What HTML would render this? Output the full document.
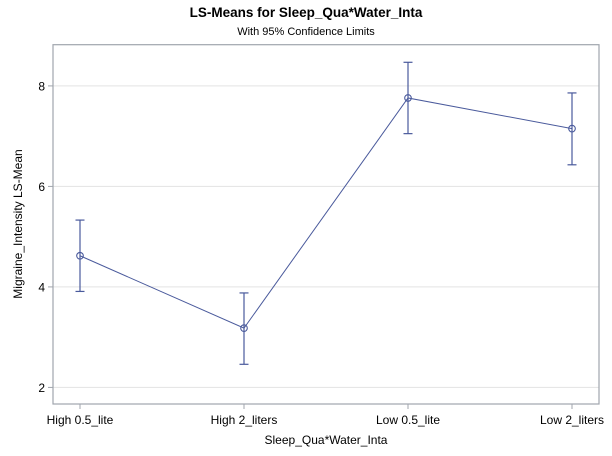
<!DOCTYPE html>
<html><head><meta charset="utf-8"><style>
html,body{margin:0;padding:0;background:#fff;}
svg{display:block;font-family:"Liberation Sans",Arial,sans-serif;}
</style></head><body>
<svg id="chart" width="612" height="456" viewBox="0 0 612 456">
<rect x="0" y="0" width="612" height="456" fill="#fff"/>
<text x="306" y="17" text-anchor="middle" font-size="13.5" font-weight="bold" fill="#000">LS-Means for Sleep_Qua*Water_Inta</text>
<text x="306" y="35" text-anchor="middle" font-size="11" fill="#000">With 95% Confidence Limits</text>
<g id="grid"></g>
<g id="yaxis"></g>
<g id="xaxis"></g>
<g id="series"></g>
<rect x="53" y="44.7" width="546" height="359.3" fill="none" stroke="#a0a5ad" stroke-width="1.2"/>
<text x="326" y="444" text-anchor="middle" font-size="12" fill="#000">Sleep_Qua*Water_Inta</text>
<text transform="translate(22,224) rotate(-90)" text-anchor="middle" font-size="12" fill="#000">Migraine_Intensity LS-Mean</text>
</svg>
<script>
const categories = ["High 0.5_lite", "High 2_liters", "Low 0.5_lite", "Low 2_liters"];
const means = [4.62, 3.18, 7.76, 7.15];
const lowerCL = [3.91, 2.46, 7.05, 6.43];
const upperCL = [5.33, 3.88, 8.47, 7.86];
const yTicks = [2, 4, 6, 8];

const NS = "http://www.w3.org/2000/svg";
const plotLeft = 53, plotRight = 599, plotTop = 44.7, plotBottom = 404;
const yMin = 1.67, yMax = 8.82;
function yScale(v){ return plotBottom - (v - yMin) / (yMax - yMin) * (plotBottom - plotTop); }
const xPad = 27;
function xScale(i){ return plotLeft + xPad + i * ((plotRight - plotLeft - 2*xPad) / (categories.length - 1)); }
function mk(tag, attrs, parent){ const e = document.createElementNS(NS, tag); for (const k in attrs) e.setAttribute(k, attrs[k]); parent.appendChild(e); return e; }

const gridG = document.getElementById('grid');
const yaxisG = document.getElementById('yaxis');
const xaxisG = document.getElementById('xaxis');
const seriesG = document.getElementById('series');

yTicks.forEach(t => {
  const y = yScale(t);
  const g = mk('line', {x1: plotLeft, x2: plotRight, y1: y, y2: y, stroke: '#e3e3e3', 'stroke-width': 1}, gridG);
  
  
  const tk = mk('line', {x1: plotLeft - 5, x2: plotLeft, y1: y, y2: y, stroke: '#a0a5ad', 'stroke-width': 1}, yaxisG);
  
  
  const lb = mk('text', {x: plotLeft - 8, y: y + 4.5, 'text-anchor': 'end', 'font-size': 12, fill: '#000'}, yaxisG);
  lb.textContent = t;
  
  
});

categories.forEach((c, i) => {
  const x = xScale(i);
  const tk = mk('line', {x1: x, x2: x, y1: plotBottom, y2: plotBottom + 5, stroke: '#a0a5ad', 'stroke-width': 1}, xaxisG);
  
  
  const lb = mk('text', {x: x, y: plotBottom + 20, 'text-anchor': 'middle', 'font-size': 12, fill: '#000'}, xaxisG);
  lb.textContent = c;
  
  
});

const col = '#4a5a9c';
const pts = means.map((m, i) => xScale(i) + ',' + yScale(m)).join(' ');
const pl = mk('polyline', {points: pts, fill: 'none', stroke: col, 'stroke-width': 1}, seriesG);



means.forEach((m, i) => {
  const x = xScale(i), yl = yScale(lowerCL[i]), yu = yScale(upperCL[i]);
  const g = mk('g', {}, seriesG);
  
  
  mk('line', {x1: x, x2: x, y1: yu, y2: yl, stroke: col, 'stroke-width': 1.2}, g);
  mk('line', {x1: x - 4.5, x2: x + 4.5, y1: yu, y2: yu, stroke: col, 'stroke-width': 1.2}, g);
  mk('line', {x1: x - 4.5, x2: x + 4.5, y1: yl, y2: yl, stroke: col, 'stroke-width': 1.2}, g);
  const c = mk('circle', {cx: x, cy: yScale(m), r: 3.3, fill: 'none', stroke: col, 'stroke-width': 1.1}, seriesG);
  
  
});
</script>
</body></html>
